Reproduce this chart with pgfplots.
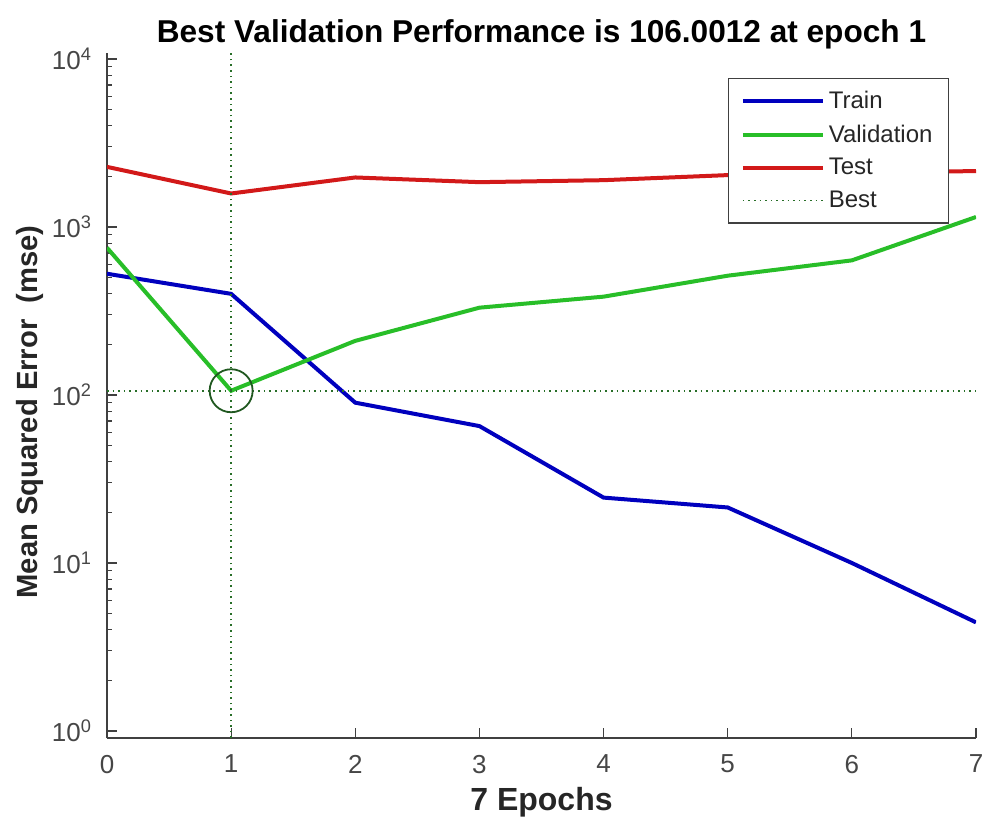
\documentclass[border=0pt]{standalone}
\usepackage{pgfplots}
\pgfplotsset{compat=1.18}
\usepackage{fontspec}
\setmainfont{Liberation Sans}
\definecolor{trainc}{RGB}{0,0,190}
\definecolor{valc}{RGB}{40,190,40}
\definecolor{testc}{RGB}{210,25,25}
\definecolor{bestc}{RGB}{40,110,40}
\definecolor{tickc}{RGB}{70,70,70}
\begin{document}
\begin{tikzpicture}
\useasboundingbox (-53.5pt,-44.5pt) rectangle (438.5pt,369pt);
\begin{axis}[
 at={(0,0)}, anchor=south west,
 scale only axis, width=434.5pt, height=342.5pt,
 ymode=log, xmin=0, xmax=7, ymin=0.908, ymax=10860,
 axis lines=left, axis line style={-, draw=black!75, line width=0.8pt},
 tick align=inside, major tick length=5pt, minor tick length=2.5pt,
 tick style={black!75, line width=0.6pt},
 xtick={0,1,2,3,4,5,6,7},
 ytick={1,10,100,1000,10000},
 minor ytick={2,3,4,5,6,7,8,9,20,30,40,50,60,70,80,90,200,300,400,500,600,700,800,900,2000,3000,4000,5000,6000,7000,8000,9000},
 yticklabels={10\textsuperscript{0},10\textsuperscript{1},10\textsuperscript{2},10\textsuperscript{3},10\textsuperscript{4}},
 /pgf/number format/assume math mode=true,
 tick label style={font=\fontsize{13}{15}\selectfont, text=tickc},
 xticklabel style={yshift=-5pt},
 yticklabel style={xshift=-4pt},
 title={Best Validation Performance is 106.0012 at epoch 1},
 title style={at={(rel axis cs:0.5,1)}, anchor=base, yshift=-1pt, font=\bfseries\fontsize{15.8}{18}\selectfont},
 xlabel={7 Epochs},
 xlabel style={at={(rel axis cs:0.5,0)}, anchor=base, yshift=-36pt, font=\bfseries\fontsize{16}{18}\selectfont, text=black!85},
 ylabel={Mean Squared Error\ \ (mse)},
 ylabel style={at={(rel axis cs:0,0.476)}, anchor=center, yshift=38.5pt, font=\bfseries\fontsize{14.6}{17}\selectfont, text=black!85},
 legend style={at={(rel axis cs:0.969,0.964)}, anchor=north east, draw=black!75, line width=0.6pt,
   font=\fontsize{12}{14}\selectfont, text=black!85, row sep=2.5pt, inner xsep=6pt, inner ysep=4.5pt},
 legend cell align=left,
 legend image code/.code={\draw[#1] (0pt,0pt) -- (40pt,0pt);},
]
\addplot[trainc, line width=2pt] coordinates {(0,527) (1,400) (2,90) (3,65.3) (4,24.5) (5,21.4) (6,10.0) (7,4.43)};
\addlegendentry{Train}
\addplot[valc, line width=2pt] coordinates {(0,753) (1,106.0012) (2,210) (3,331) (4,385) (5,513) (6,633) (7,1147)};
\addlegendentry{Validation}
\addplot[testc, line width=2pt] coordinates {(0,2280) (1,1583) (2,1972) (3,1849) (4,1900) (5,2037) (6,2100) (7,2153)};
\addlegendentry{Test}
\addplot[bestc, line width=0.8pt, dotted] coordinates {(0,106.0012) (7,106.0012)};
\addlegendentry{Best}
\addplot[bestc, line width=0.8pt, dotted, forget plot] coordinates {(1,0.908) (1,10860)};
\addplot[bestc!80!black, only marks, mark=o, mark size=10.75pt, mark options={line width=0.9pt}, forget plot] coordinates {(1,106.0012)};
\end{axis}
\end{tikzpicture}
\end{document}
